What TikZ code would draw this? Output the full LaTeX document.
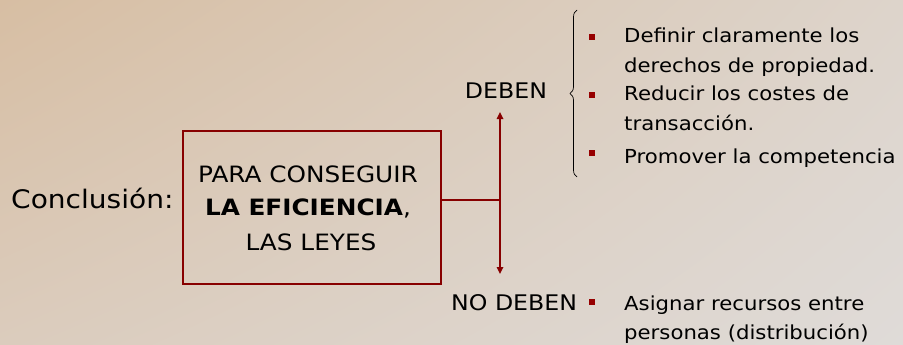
\documentclass[tikz,border=0pt]{standalone}
\usepackage{fontspec}
\setmainfont[FakeStretch=1.1]{DejaVu Sans}
\usetikzlibrary{decorations.pathreplacing,arrows.meta,shadings}
\definecolor{dred}{RGB}{135,0,0}
\definecolor{bulc}{RGB}{150,0,0}
\definecolor{bgTL}{RGB}{215,190,163}
\definecolor{bgTR}{RGB}{221,212,203}
\definecolor{bgBL}{RGB}{219,204,189}
\definecolor{bgBR}{RGB}{223,219,216}
\tikzset{
  txt/.style={font=\fontsize{19.3}{23}\selectfont, inner sep=0pt, anchor=base west},
  boxtxt/.style={font=\fontsize{22.5}{26}\selectfont, inner sep=0pt, anchor=base},
  lbl/.style={font=\fontsize{21.5}{25}\selectfont, inner sep=0pt},
  bul/.style={fill=bulc, minimum size=6.5pt, inner sep=0pt},
  conn/.style={draw=dred, line width=1.6pt},
  tip/.style={-{Triangle[length=7pt,width=6.5pt]}}
}
\begin{document}
\begin{tikzpicture}[x=1pt,y=-1pt]
\useasboundingbox (0,0) rectangle (903,345);
\begin{scope}[y=1pt]
\shade[upper left=bgTL, upper right=bgTR, lower left=bgBL, lower right=bgBR] (0,-345) rectangle (903,0);
\end{scope}
\node[font=\fontsize{25.5}{30}\selectfont, anchor=base west, inner sep=0pt] (conc) at (11,208) {Conclusión:};
\node[draw=dred, line width=2pt, minimum width=258pt, minimum height=153pt, inner sep=0pt, anchor=north west] (box) at (182,130) {};
\node[boxtxt] (l1) at (308,182) {PARA CONSEGUIR};
\node[boxtxt] (l2) at (308,215) {\textbf{LA EFICIENCIA},};
\node[boxtxt] (l3) at (311,250) {LAS LEYES};
\coordinate (j) at (500,200);
\coordinate (up) at (500,112);
\coordinate (dn) at (500,274);
\node[lbl, anchor=base] (deben) at (506,99) {DEBEN};
\node[lbl, anchor=base west] (nodeben) at (451,310) {NO DEBEN};
\draw[conn] (box.east |- j) -- (j);
\draw[conn, tip] (j) -- (up);
\draw[conn, tip] (j) -- (dn);
\draw[decorate, decoration={brace, amplitude=7pt}, line width=0.7pt] (577,177) -- (577,10);
\node[bul] (b1) at (592,37) {};
\node[bul] (b2) at (592,95) {};
\node[bul] (b3) at (592,153) {};
\node[bul] (b4) at (592,302) {};
\node[txt] (t1) at (624,43) {Definir claramente los};
\node[txt] (t1b) at (624,73) {derechos de propiedad.};
\node[txt] (t2) at (624,100) {Reducir los costes de};
\node[txt] (t2b) at (624,130) {transacción.};
\node[txt] (t3) at (624,163) {Promover la competencia};
\node[txt] (t4) at (624,310) {Asignar recursos entre};
\node[txt] (t4b) at (624,339) {personas (distribución)};
\end{tikzpicture}
\end{document}
